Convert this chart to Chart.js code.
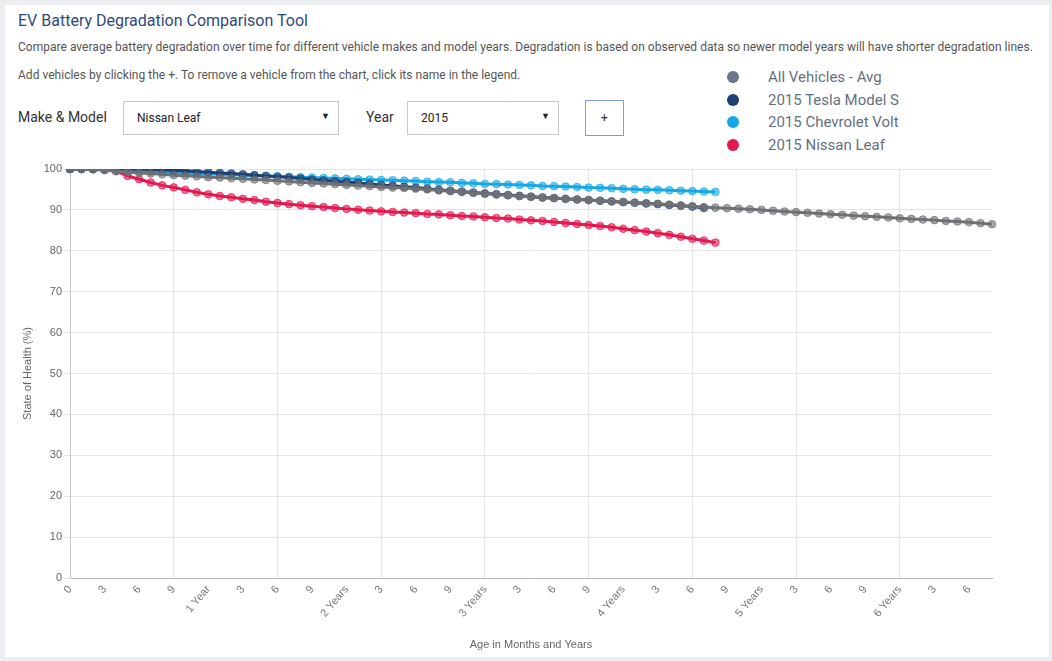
<!DOCTYPE html>
<html>
<head>
<meta charset="utf-8">
<script src="https://cdn.jsdelivr.net/npm/chart.js@4.4.1/dist/chart.umd.min.js"></script>
<style>
  html, body { margin:0; padding:0; }
  body { width:1052px; height:661px; background:#eceef1; position:relative; overflow:hidden; font-family: Roboto, "Noto Sans", Arial, sans-serif; }
  #card { position:absolute; left:5px; top:5px; width:1044px; height:652px; background:#fff; }
  #title { position:absolute; left:18px; top:11px; font-size:16px; color:#2f4a7a; white-space:nowrap; }
  .desc { position:absolute; left:18px; font-size:12px; color:#555; white-space:nowrap; letter-spacing:0.02px; }
  .lbl { position:absolute; font-size:14px; color:#333; white-space:nowrap; }
  .sel { position:absolute; height:34px; border:1px solid #c9c9c9; box-sizing:border-box; background:#fff; font-size:12px; color:#222; }
  .sel span.t { position:absolute; left:13px; top:9px; }
  .sel span.a { position:absolute; right:8px; top:9px; font-size:9px; color:#222; }
  #plus { position:absolute; left:585px; top:100px; width:39px; height:36px; border:1px solid #7d9fd4; box-sizing:border-box; font-size:12px; color:#333; text-align:center; line-height:34px; }
  #legend { position:absolute; left:726px; top:68px; }
  .li { position:relative; height:22.5px; font-size:15px; color:#65707f; white-space:nowrap; }
  .li i { position:absolute; left:1px; top:3px; width:12px; height:12px; border-radius:50%; }
  .li span { position:absolute; left:42px; top:0px; }
  #wrap { position:absolute; left:0; top:150px; width:1010px; height:510px; }
</style>
</head>
<body>
<div id="card"></div>
<div id="title">EV Battery Degradation Comparison Tool</div>
<div class="desc" style="top:40px">Compare average battery degradation over time for different vehicle makes and model years. Degradation is based on observed data so newer model years will have shorter degradation lines.</div>
<div class="desc" style="top:68px">Add vehicles by clicking the +. To remove a vehicle from the chart, click its name in the legend.</div>
<div class="lbl" style="left:18px; top:109px">Make &amp; Model</div>
<div class="sel" style="left:123px; top:101px; width:216px"><span class="t">Nissan Leaf</span><span class="a">&#9660;</span></div>
<div class="lbl" style="left:366px; top:109px">Year</div>
<div class="sel" style="left:407px; top:101px; width:152px"><span class="t">2015</span><span class="a">&#9660;</span></div>
<div id="plus">+</div>
<div id="legend"></div>
<div id="wrap"><canvas id="c"></canvas></div>
<script>
// ---- data ----
const months = [0,1,2,3,4,5,6,7,8,9,10,11,12,13,14,15,16,17,18,19,20,21,22,23,24,25,26,27,28,29,30,31,32,33,34,35,36,37,38,39,40,41,42,43,44,45,46,47,48,49,50,51,52,53,54,55,56,57,58,59,60,61,62,63,64,65,66,67,68,69,70,71,72,73,74,75,76,77,78,79,80];
// label shown every 3 months (index = month / 3)
const tickLabels = ['0','3','6','9','1 Year','3','6','9','2 Years','3','6','9','3 Years','3','6','9','4 Years','3','6','9','5 Years','3','6','9','6 Years','3','6'];
const seriesNames = ['All Vehicles - Avg','2015 Tesla Model S','2015 Chevrolet Volt','2015 Nissan Leaf'];
const allAvg = [100,100,99.9,99.7,99.45,99.25,99.05,98.9,98.7,98.5,98.35,98.2,98.0,97.9,97.75,97.6,97.45,97.3,97.1,96.95,96.75,96.6,96.45,96.3,96.1,95.95,95.8,95.6,95.45,
  95.35,95.2,95.0,94.75,94.55,94.35,94.15,93.95,93.75,93.55,93.35,93.15,93.0,92.85,92.7,92.55,92.4,92.25,92.1,91.95,91.8,91.65,91.5,91.3,91.1,90.9,90.7,90.55,
  90.4,90.3,90.15,90.0,89.8,89.6,89.45,89.3,89.1,88.95,88.8,88.6,88.45,88.3,88.15,87.95,87.8,87.65,87.5,87.3,87.15,87.0,86.75,86.5];
const teslaS2015 = [100,100,100,100,100,100,100,99.9,99.8,99.7,99.55,99.4,99.2,99.05,98.9,98.7,98.5,98.3,98.1,97.9,97.7,97.45,97.2,97.0,96.8,96.6,96.35,96.1,95.9,
  95.65,95.45,95.2,94.95,94.7,94.5,94.25,94.05,93.85,93.65,93.45,93.25,93.05,92.9,92.7,92.55,92.4,92.25,92.05,91.9,91.75,91.55,91.4,91.2,91.0,90.8,90.45];
const volt2015 = [100,100,99.95,99.85,99.75,99.6,99.5,99.35,99.25,99.1,99.0,98.9,98.8,98.7,98.6,98.5,98.4,98.3,98.2,98.1,98.0,97.9,97.8,97.7,97.6,97.5,97.4,97.3,97.25,
  97.15,97.05,96.9,96.8,96.75,96.6,96.5,96.35,96.3,96.2,96.1,96.0,95.85,95.8,95.7,95.6,95.45,95.4,95.3,95.15,95.05,94.95,94.9,94.8,94.7,94.6,94.5,94.4];
const leaf2015 = [100,100,100,100,99.5,98.3,97.5,96.7,96.0,95.5,94.9,94.3,93.8,93.4,93.1,92.7,92.4,92.0,91.7,91.4,91.15,90.9,90.7,90.45,90.25,90.05,89.85,89.65,89.5,
  89.35,89.2,89.0,88.9,88.7,88.5,88.4,88.2,88.0,87.9,87.65,87.45,87.3,87.05,86.8,86.55,86.3,86.05,85.75,85.4,85.05,84.7,84.3,83.9,83.45,82.95,82.5,82.0];
const lineColors = ['#6e7073','#1f3f73','#14a8e6','#e6174f'];
const legendColors = ['#697789','#1f3f73','#14a8e6','#e6174f'];
const yTicks = [0,10,20,30,40,50,60,70,80,90,100];

// ---- legend ----
const lg = document.getElementById('legend');
seriesNames.forEach((n,i)=>{
  const d=document.createElement('div'); d.className='li';
  d.innerHTML='<i style="background:'+legendColors[i]+'"></i><span>'+n+'</span>';
  lg.appendChild(d);
});

function hexA(h,a){const r=parseInt(h.slice(1,3),16),g=parseInt(h.slice(3,5),16),b=parseInt(h.slice(5,7),16);return 'rgba('+r+','+g+','+b+','+a+')';}
const seriesData=[allAvg,teslaS2015,volt2015,leaf2015];
const datasets = seriesData.map((d,i)=>({
  label: seriesNames[i], data: d,
  borderColor: lineColors[i], borderWidth: 3,
  pointRadius: 3.8, pointBorderWidth: 1,
  pointBackgroundColor: hexA(lineColors[i],0.6), pointBorderColor: hexA(lineColors[i],0.75),
  tension: 0, fill:false
}));

const tickFont = {family:'"Liberation Sans", Arial, Helvetica, sans-serif', size:11};
new Chart(document.getElementById('c'), {
  type:'line',
  data:{ labels: months, datasets },
  options:{
    responsive:true, maintainAspectRatio:false, animation:false,
    layout:{ padding:{ top:19, right:18, left:0, bottom:0 } },
    plugins:{ legend:{display:false}, tooltip:{enabled:false} },
    scales:{
      x:{
        grid:{ color: ctx => (ctx.index % 3 === 0 ? '#e4e4e4' : 'rgba(0,0,0,0)'), drawTicks:false },
        border:{ color:'#b5b5b5' },
        ticks:{ autoSkip:false, minRotation:50, maxRotation:50, padding:5, color:'#777', font:tickFont,
          callback:(v,i)=> (i % 3 === 0 ? tickLabels[i/3] : null) },
        title:{ display:true, text:'Age in Months and Years', color:'#666', font:tickFont, padding:{top:4,bottom:8} },
        afterFit: s => { s.height = 82; }
      },
      y:{
        min:0, max:100,
        afterBuildTicks: s => { s.ticks = yTicks.map(v=>({value:v})); },
        grid:{ color:'#e4e4e4', tickLength:6 },
        border:{ color:'#c8c8c8' },
        ticks:{ padding:2, color:'#666', font:tickFont },
        title:{ display:true, text:'State of Health (%)', color:'#666', font:tickFont, padding:{top:21,bottom:0} },
        afterFit: s => { s.width = 70; }
      }
    }
  }
});
</script>
</body>
</html>
